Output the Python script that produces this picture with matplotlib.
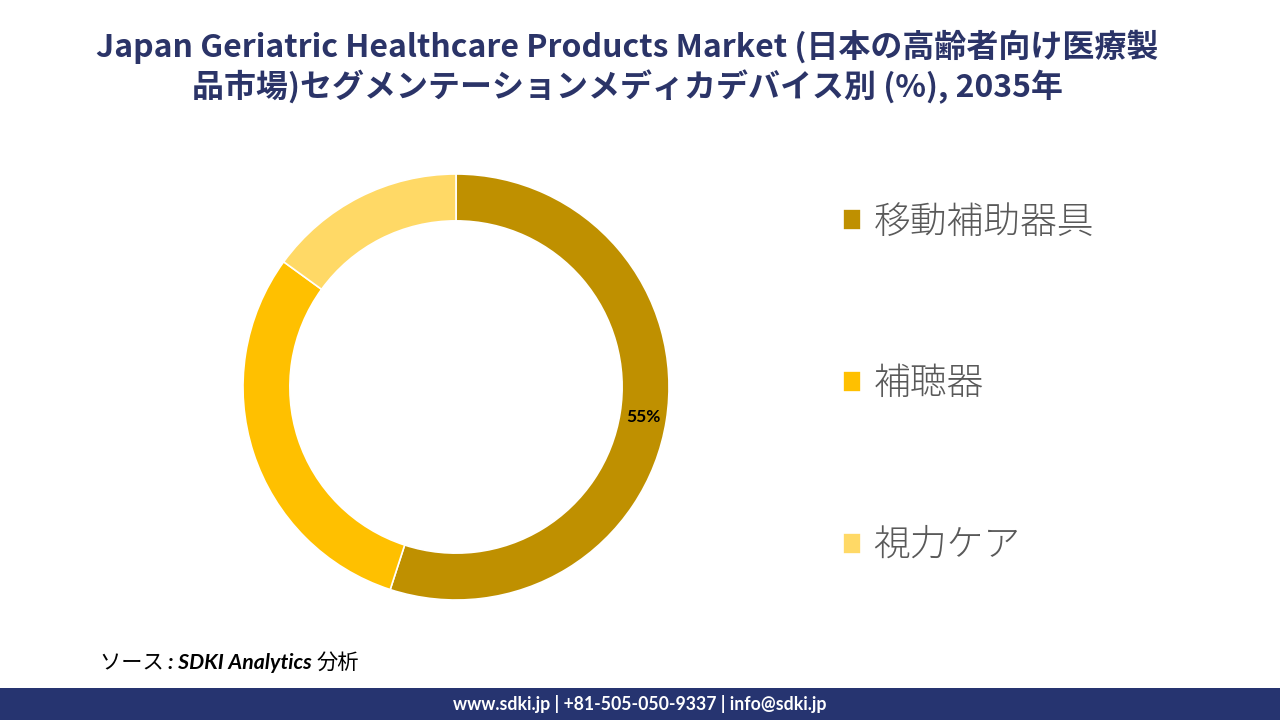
import matplotlib
matplotlib.use("Agg")
import matplotlib.pyplot as plt
from matplotlib.patches import Rectangle

# data
segments = ["移動補助器具", "補聴器", "視力ケア"]
shares = [55, 30, 15]
colors = ["#BF9000", "#FFC000", "#FFD966"]

title = ("Japan Geriatric Healthcare Products Market (日本の高齢者向け医療製\n"
         "品市場)セグメンテーションメディカデバイス別 (%), 2035年")
footer = "www.sdki.jp | +81-505-050-9337 | info@sdki.jp"

JP = "Noto Sans CJK JP"
W, H = 1280, 720

fig = plt.figure(figsize=(12.8, 7.2), dpi=100)
fig.patch.set_facecolor("white")

# donut
cx, cy, r = 456, 387, 213
ax = fig.add_axes([(cx - r) / W, (H - cy - r) / H, 2 * r / W, 2 * r / H])
wedges, _, autotexts = ax.pie(
    shares, colors=colors, startangle=90, counterclock=False,
    radius=1.0, autopct=lambda p: f"{p:.0f}%" if p > 50 else "",
    pctdistance=0.89,
    wedgeprops=dict(width=0.22, edgecolor="white", linewidth=1.2),
)
for t in autotexts:
    t.set_fontsize(12.5)
    t.set_fontweight("bold")
    t.set_family(["Lato", "DejaVu Sans"])
    t.set_color("black")
ax.set_xlim(-1, 1)
ax.set_ylim(-1, 1)
ax.set_aspect("equal")
ax.axis("off")

# legend
leg = fig.legend(
    wedges, segments, loc="upper left",
    bbox_to_anchor=(843 / W, 1 - 203 / H),
    frameon=False, prop={"family": [JP, "DejaVu Sans"], "size": 26.5,
                         "weight": "light"},
    labelspacing=3.35, handlelength=0.5, handleheight=0.5,
    handletextpad=0.33, borderpad=0, borderaxespad=0,
)
for t in leg.get_texts():
    t.set_color("#595959")

# title
fig.text(627 / W, 1 - 67 / H, title, ha="center", va="center",
         fontsize=23, fontweight="bold", color="#2B3468",
         family=[JP, "DejaVu Sans"], linespacing=1.22)

# source line, laid out piece by piece
renderer = fig.canvas.get_renderer()
x = 100
for s, kw in [("ソース ", dict(family=[JP, "DejaVu Sans"])),
              (": SDKI Analytics ", dict(family=["Lato", "DejaVu Sans"],
                                         fontweight="bold")),
              ("分析", dict(family=[JP, "DejaVu Sans"]))]:
    t = fig.text(x / W, 1 - 663 / H, s, ha="left", va="center",
                 fontsize=15.3, style="italic", color="black", **kw)
    x += t.get_window_extent(renderer).width

# footer bar
fig.patches.append(Rectangle((0, 0), 1, 32 / H, transform=fig.transFigure,
                             facecolor="#263470", edgecolor="none", zorder=0))
fig.text(0.5, 16 / H, footer, ha="center", va="center", fontsize=12.7,
         fontweight="bold", color="white", family=["Lato", "DejaVu Sans"])

fig.savefig("out.png", dpi=100)
